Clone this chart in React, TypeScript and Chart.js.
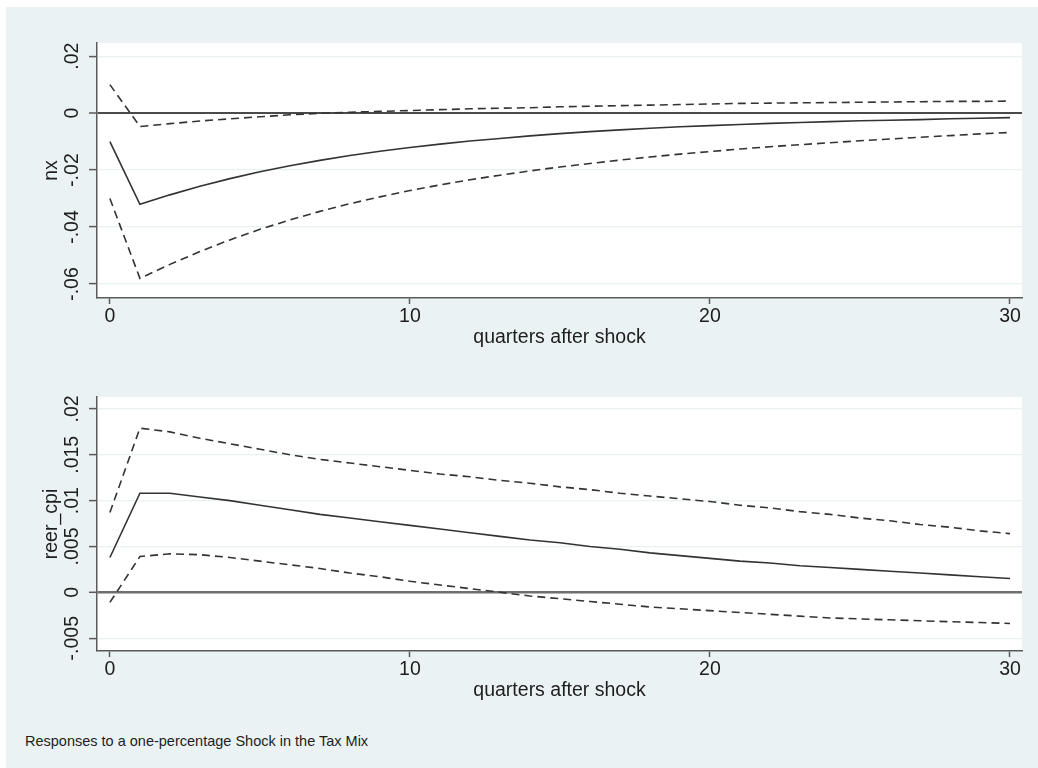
import React, { useEffect, useRef } from "react";
import { Chart, registerables } from "chart.js";

Chart.register(...registerables);

// ---------- data ----------
const quarters = [0, 1, 2, 3, 4, 5, 6, 7, 8, 9, 10, 11, 12, 13, 14, 15, 16, 17, 18, 19, 20, 21, 22, 23, 24, 25, 26, 27, 28, 29, 30];

const nxIrf = [-0.010, -0.032, -0.0287, -0.0257, -0.0230, -0.0206, -0.0185, -0.0166, -0.0149, -0.0134, -0.0121, -0.0109, -0.0098, -0.0089, -0.0080, -0.0072, -0.0065, -0.0059, -0.0053, -0.0048, -0.0044, -0.0040, -0.0036, -0.0033, -0.0030, -0.0027, -0.0025, -0.0023, -0.0020, -0.0018, -0.0016];
const nxUpper = [0.010, -0.0047, -0.0037, -0.0028, -0.0020, -0.0013, -0.0006, -0.0001, 0.0003, 0.0006, 0.0009, 0.0012, 0.0015, 0.0017, 0.0019, 0.0022, 0.0024, 0.0026, 0.0028, 0.0030, 0.0032, 0.0034, 0.0035, 0.0036, 0.0037, 0.0038, 0.0039, 0.0040, 0.0041, 0.0041, 0.0042];
const nxLower = [-0.030, -0.058, -0.0531, -0.0486, -0.0445, -0.0408, -0.0375, -0.0345, -0.0318, -0.0294, -0.0272, -0.0252, -0.0234, -0.0218, -0.0203, -0.0189, -0.0177, -0.0165, -0.0154, -0.0144, -0.0135, -0.0126, -0.0118, -0.0111, -0.0104, -0.0097, -0.0091, -0.0085, -0.0079, -0.0073, -0.0068];

const reerIrf = [0.0038, 0.0108, 0.0108, 0.0104, 0.0100, 0.0095, 0.0090, 0.0085, 0.0081, 0.0077, 0.0073, 0.0069, 0.0065, 0.0061, 0.0057, 0.0054, 0.0050, 0.0047, 0.0043, 0.0040, 0.0037, 0.0034, 0.0032, 0.0029, 0.0027, 0.0025, 0.0023, 0.0021, 0.0019, 0.0017, 0.0015];
const reerUpper = [0.0087, 0.0179, 0.0175, 0.0168, 0.0162, 0.0156, 0.0150, 0.0145, 0.0141, 0.0137, 0.0133, 0.0129, 0.0126, 0.0122, 0.0119, 0.0115, 0.0112, 0.0108, 0.0105, 0.0102, 0.0099, 0.0095, 0.0092, 0.0088, 0.0085, 0.0081, 0.0078, 0.0074, 0.0071, 0.0067, 0.0064];
const reerLower = [-0.0011, 0.0039, 0.0042, 0.0041, 0.0038, 0.0034, 0.0030, 0.0026, 0.0021, 0.0017, 0.0012, 0.0008, 0.0004, 0.0000, -0.0004, -0.0007, -0.0010, -0.0013, -0.0016, -0.0018, -0.0020, -0.0022, -0.0024, -0.0026, -0.0028, -0.0029, -0.0030, -0.0031, -0.0032, -0.0033, -0.0034];

const xTicks = [0, 10, 20, 30];
const xTickLabels = ["0", "10", "20", "30"];
const nxTicks = [0.02, 0, -0.02, -0.04, -0.06];
const nxTickLabels = [".02", "0", "-.02", "-.04", "-.06"];
const reerTicks = [0.02, 0.015, 0.01, 0.005, 0, -0.005];
const reerTickLabels = [".02", ".015", ".01", ".005", "0", "-.005"];

const xTitle = "quarters after shock";
const nxTitle = "nx";
const reerTitle = "reer_cpi";
const caption = "Responses to a one-percentage Shock in the Tax Mix";

// ---------- styles ----------
const FONT = '"Liberation Sans", Arial, Helvetica, sans-serif';
const AXIS_SIZE = 19.5;
const TEXT = "#1e1e1e";
const LINE = "#333333";
const AXIS = "#5a5a5a";
const GRID = "#eaf1f2";
const BG = "#eaf2f3";

const panelPlugin = {
  id: "panel",
  beforeDraw(chart: any) {
    const { ctx, chartArea } = chart;
    ctx.save();
    ctx.fillStyle = "#ffffff";
    ctx.fillRect(chartArea.left, chartArea.top, chartArea.right - chartArea.left, chartArea.bottom - chartArea.top);
    ctx.restore();
  },
  afterDraw(chart: any, _args: any, opts: any) {
    const { ctx } = chart;
    const scale = chart.scales.y;
    const labels: string[] = opts.labels || [];
    ctx.save();
    ctx.font = `${AXIS_SIZE}px ${FONT}`;
    ctx.fillStyle = TEXT;
    ctx.textAlign = "center";
    ctx.textBaseline = "middle";
    scale.ticks.forEach((t: any, i: number) => {
      const y = scale.getPixelForValue(t.value);
      ctx.save();
      ctx.translate(opts.labelX, y);
      ctx.rotate(-Math.PI / 2);
      ctx.fillText(labels[i], 0, 0);
      ctx.restore();
    });
    ctx.restore();
  },
};

type PanelProps = {
  top: number;
  height: number;
  padTop: number;
  axisHeight: number;
  titlePadBottom: number;
  yTitle: string;
  yMin: number;
  yMax: number;
  ticks: number[];
  tickLabels: string[];
  irf: number[];
  upper: number[];
  lower: number[];
  zeroColor: string;
  zeroWidth: number;
};

function Panel(p: PanelProps) {
  const ref = useRef<HTMLCanvasElement | null>(null);
  useEffect(() => {
    if (!ref.current) return;
    const mk = (vals: number[]) => quarters.map((q, i) => ({ x: q, y: vals[i] }));
    const dashed = [8, 5];
    const chart = new Chart(ref.current, {
      type: "line",
      data: {
        datasets: [
          { data: mk(p.upper), borderColor: LINE, borderWidth: 1.6, borderDash: dashed, pointRadius: 0, fill: false, tension: 0 },
          { data: mk(p.lower), borderColor: LINE, borderWidth: 1.6, borderDash: dashed, pointRadius: 0, fill: false, tension: 0 },
          { data: mk(p.irf), borderColor: LINE, borderWidth: 1.6, pointRadius: 0, fill: false, tension: 0 },
        ],
      },
      options: {
        animation: false,
        responsive: false,
        devicePixelRatio: 1,
        layout: { padding: { left: 0, right: 16, top: p.padTop, bottom: 0 } },
        plugins: {
          legend: { display: false },
          tooltip: { enabled: false },
          panel: { labels: p.tickLabels, labelX: 73 },
        } as any,
        scales: {
          x: {
            type: "linear",
            min: -0.43,
            max: 30.4,
            afterBuildTicks: (axis: any) => {
              axis.ticks = xTicks.map((v) => ({ value: v }));
            },
            afterFit: (axis: any) => {
              axis.height = p.axisHeight;
            },
            ticks: {
              font: { family: FONT, size: AXIS_SIZE },
              color: TEXT,
              padding: 1,
              maxRotation: 0,
              minRotation: 0,
              callback: (v: any) => {
                const i = xTicks.indexOf(Number(v));
                return i >= 0 ? xTickLabels[i] : "";
              },
            },
            grid: { display: true, drawOnChartArea: false, drawTicks: true, tickLength: 6, tickColor: AXIS, tickWidth: 1.5 },
            border: { display: true, color: AXIS, width: 1.5 },
            title: {
              display: true,
              text: xTitle,
              font: { family: FONT, size: AXIS_SIZE },
              color: TEXT,
              padding: { top: 0, bottom: p.titlePadBottom },
            },
          },
          y: {
            type: "linear",
            min: p.yMin,
            max: p.yMax,
            afterBuildTicks: (axis: any) => {
              axis.ticks = p.ticks.map((v) => ({ value: v }));
            },
            afterFit: (axis: any) => {
              axis.width = 97;
            },
            ticks: { display: false },
            grid: {
              display: true,
              drawOnChartArea: true,
              drawTicks: true,
              tickLength: 8,
              tickColor: AXIS,
              tickWidth: 1.5,
              color: (c: any) => (c.tick && c.tick.value === 0 ? p.zeroColor : GRID),
              lineWidth: (c: any) => (c.tick && c.tick.value === 0 ? p.zeroWidth : 1.2),
            },
            border: { display: true, color: AXIS, width: 1.5 },
            title: {
              display: true,
              text: p.yTitle,
              font: { family: FONT, size: AXIS_SIZE },
              color: TEXT,
              padding: { top: 40.3, bottom: 0 },
            },
          },
        },
      },
      plugins: [panelPlugin],
    } as any);
    return () => chart.destroy();
  }, []);
  return (
    <canvas
      ref={ref}
      width={1038}
      height={p.height}
      style={{ position: "absolute", left: 0, top: p.top, width: 1038, height: p.height }}
    />
  );
}

export default function App() {
  return (
    <div style={{ position: "absolute", left: 0, top: 0, width: 1038, height: 768, background: "#ffffff", overflow: "hidden" }}>
      <div style={{ position: "absolute", left: 6, top: 7, width: 1032, height: 761, background: BG }} />
      <Panel
        top={0}
        height={360}
        padTop={43}
        axisHeight={62}
        titlePadBottom={10.3}
        yTitle={nxTitle}
        yMin={-0.0649}
        yMax={0.0246}
        ticks={nxTicks}
        tickLabels={nxTickLabels}
        irf={nxIrf}
        upper={nxUpper}
        lower={nxLower}
        zeroColor="#4a4a4a"
        zeroWidth={2}
      />
      <Panel
        top={360}
        height={350}
        padTop={37}
        axisHeight={59}
        titlePadBottom={7.3}
        yTitle={reerTitle}
        yMin={-0.0064}
        yMax={0.0213}
        ticks={reerTicks}
        tickLabels={reerTickLabels}
        irf={reerIrf}
        upper={reerUpper}
        lower={reerLower}
        zeroColor="#6e6e6e"
        zeroWidth={2.6}
      />
      <div
        style={{
          position: "absolute",
          left: 25,
          top: 733,
          fontFamily: FONT,
          fontSize: 14.5,
          lineHeight: "17px",
          color: TEXT,
          whiteSpace: "nowrap",
        }}
      >
        {caption}
      </div>
    </div>
  );
}
